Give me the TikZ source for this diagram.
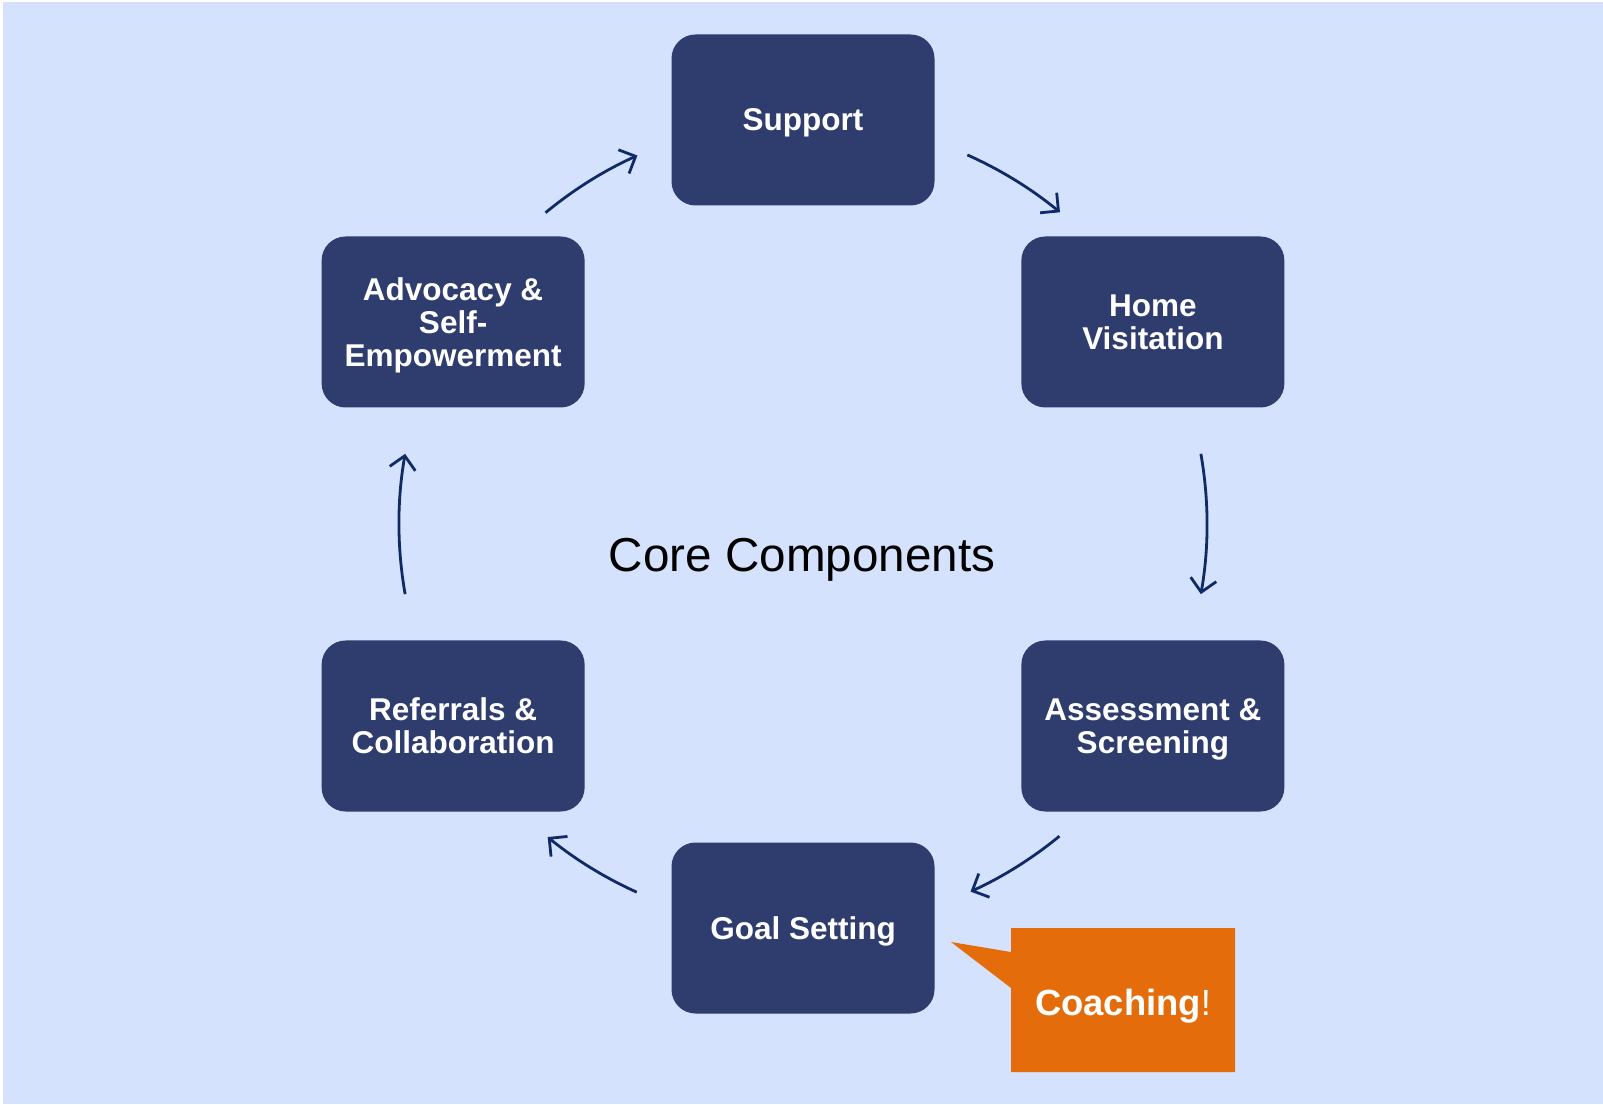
\documentclass[tikz,border=0pt]{standalone}
\usepackage{fontspec}
\setmainfont{Liberation Sans}
\usetikzlibrary{arrows.meta,calc}
\definecolor{bgblue}{HTML}{D5E2FD}
\definecolor{navy}{HTML}{2E3C6E}
\definecolor{arrowc}{HTML}{102A66}
\definecolor{orangec}{HTML}{E46C0A}
\tikzset{
  comp/.style={fill=navy, rounded corners=24pt, minimum width=263pt, minimum height=171pt,
    text=white, align=center, inner sep=0pt, text depth=0pt,
    font=\fontsize{31.5pt}{33pt}\selectfont\bfseries},
  cyc/.style={draw=arrowc, line width=2.8pt,
    -{Straight Barb[length=13pt,width=26pt,line width=2.8pt]}}
}
\begin{document}
\begin{tikzpicture}[x=1pt,y=1pt]
\useasboundingbox (0,0) rectangle (1603,1104);
\fill[white] (0,0) rectangle (1603,1104);
\fill[bgblue] (3,0) rectangle (1603,1102);
\coordinate (c) at (803,580);
\node[comp] (support) at ($(c)+(90:404)$) {Support};
\node[comp] (home) at ($(c)+(30:404)$) {Home\\Visitation};
\node[comp] (assess) at ($(c)+(-30:404)$) {Assessment \&\\Screening};
\node[comp] (goal) at ($(c)+(-90:404)$) {Goal Setting};
\node[comp] (refer) at ($(c)+(-150:404)$) {Referrals \&\\Collaboration};
\node[comp] (advoc) at ($(c)+(150:404)$) {Advocacy \&\\Self-\\Empowerment};
\node[anchor=base, font=\fontsize{47.6pt}{50pt}\selectfont] (core) at (802,532) {Core Components};
\draw[cyc] (c) ++(66:404) arc[start angle=66, end angle=50.5, radius=404];
\draw[cyc] (c) ++(10:404) arc[start angle=10, end angle=-10, radius=404];
\draw[cyc] (c) ++(-50.6:404) arc[start angle=-50.6, end angle=-65.5, radius=404];
\draw[cyc] (c) ++(245.7:404) arc[start angle=245.7, end angle=230.8, radius=404];
\draw[cyc] (c) ++(190:404) arc[start angle=190, end angle=170, radius=404];
\draw[cyc] (c) ++(129.6:404) arc[start angle=129.6, end angle=114.2, radius=404];
\fill[orangec] (1011,176) -- (1235,176) -- (1235,32) -- (1011,32) -- (1011,116) -- (951,162) -- (1011,152) -- cycle;
\node[anchor=base, text=white, font=\fontsize{36.4pt}{38pt}\selectfont] (coach) at (1123,89) {\bfseries Coaching\mdseries!};
\end{tikzpicture}
\end{document}
